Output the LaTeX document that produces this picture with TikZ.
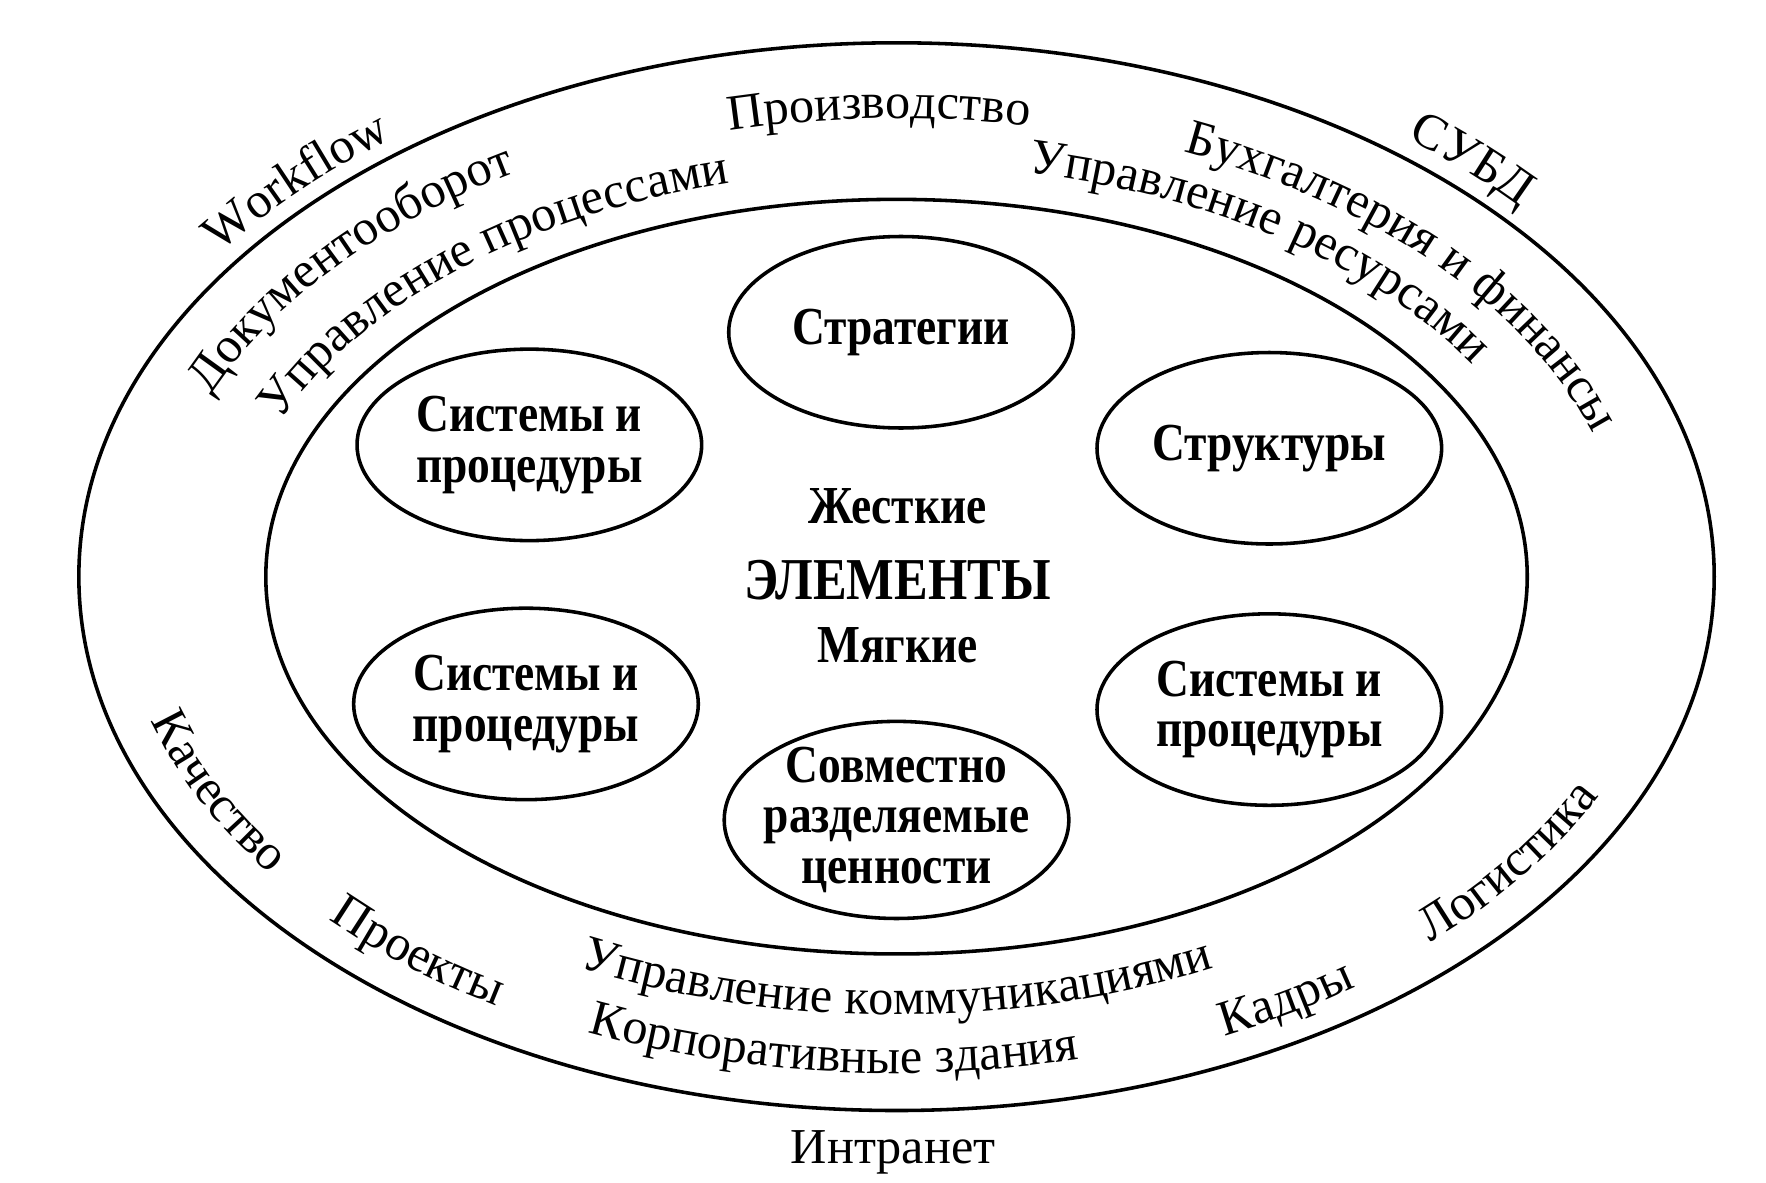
\documentclass[tikz,border=0pt]{standalone}
\usepackage{fontspec}
\setmainfont{Liberation Serif}
\newfontfamily\elemfont[FakeStretch=0.85]{Liberation Serif}
\usetikzlibrary{shapes.geometric,decorations.text}
\newcommand\ringfont{\fontsize{12.7}{15}\selectfont}

\begin{document}
\begin{tikzpicture}[line width=0.9pt,
	every node/.style={font=\elemfont\bfseries\fontsize{13.5}{12.8}\selectfont, align=center},
	element/.style={draw, ellipse, minimum width=3.06cm, minimum height=1.70cm, inner sep=-3mm},
	ring/.style={decorate, decoration={text along path, text align=center, text={|\ringfont|#1}}}]
	\useasboundingbox (0,0) rectangle (15.68,10.50);
	\coordinate (c) at (7.96,5.38);
	\draw (c) ellipse [x radius=7.26, y radius=4.74];
	\draw (c) ellipse [x radius=5.60, y radius=3.35];
	% elements
	\node[element] (strat)  at (8.00,7.55)  {Стратегии};
	\node[element] (sysA)   at (4.70,6.55)  {Системы и\\процедуры};
	\node[element] (struct) at (11.27,6.52) {Структуры};
	\node[element] (sysB)   at (4.67,4.25)  {Системы и\\процедуры};
	\node[element] (sysC)   at (11.27,4.20) {Системы и\\процедуры};
	\node[element, minimum height=1.75cm] (values) at (7.96,3.22) {Совместно\\разделяемые\\ценности};
	\node[anchor=base] (hard)  at (7.97,5.85) {Жесткие};
	\node[anchor=base, font=\elemfont\bfseries\fontsize{15}{15}\selectfont] (elems) at (7.97,5.18) {ЭЛЕМЕНТЫ};
	\node[anchor=base] (soft)  at (7.97,4.62) {Мягкие};
	% ring, top
	\path[ring={Workflow}] (c) ++(146.7:7.43 and 4.88) arc[start angle=146.7, end angle=124.7, x radius=7.43, y radius=4.88];
	\path[ring={СУБД}] (c) ++(55.1:7.45 and 4.90) arc[start angle=55.1, end angle=39.1, x radius=7.45, y radius=4.90];
	\path[ring={Документооборот}] (c) ++(161.6:6.60 and 4.18) arc[start angle=161.6, end angle=117.6, x radius=6.60, y radius=4.18];
	\path[ring={Управление процессами}] (c) ++(158.1:5.92 and 3.61) arc[start angle=158.1, end angle=104.1, x radius=5.92, y radius=3.61];
	\path[ring={Производство}] (c) ++(106.4:6.46 and 4.07) arc[start angle=106.4, end angle=76.4, x radius=6.46, y radius=4.07];
	\path[ring={Бухгалтерия и финансы}] (c) ++(69:6.50 and 4.10) arc[start angle=69, end angle=15, x radius=6.50, y radius=4.10];
	\path[ring={Управление ресурсами}] (c) ++(80.5:5.965 and 3.656) arc[start angle=80.5, end angle=28.5, x radius=5.965, y radius=3.656];
	% ring, bottom
	\path[ring={Управление коммуникациями}] (c) ++(240:6.25 and 3.89) arc[start angle=240, end angle=300, x radius=6.25, y radius=3.89];
	\path[ring={Корпоративные здания}] (c) ++(243:6.86 and 4.41) arc[start angle=243, end angle=287, x radius=6.86, y radius=4.41];
	\path[ring={Проекты}] (c) ++(221:6.91 and 4.45) arc[start angle=221, end angle=241, x radius=6.91, y radius=4.45];
	\path[ring={Качество}] (c) ++(194.4:6.91 and 4.45) arc[start angle=194.4, end angle=218.4, x radius=6.91, y radius=4.45];
	\path[ring={Кадры}] (c) ++(292.4:6.96 and 4.49) arc[start angle=292.4, end angle=308.4, x radius=6.96, y radius=4.49];
	\path[ring={Логистика}] (c) ++(310.9:6.93 and 4.46) arc[start angle=310.9, end angle=336.9, x radius=6.93, y radius=4.46];
	\node[anchor=base, font=\ringfont] (intra) at (7.93,0.17) {Интранет};
\end{tikzpicture}
\end{document}
